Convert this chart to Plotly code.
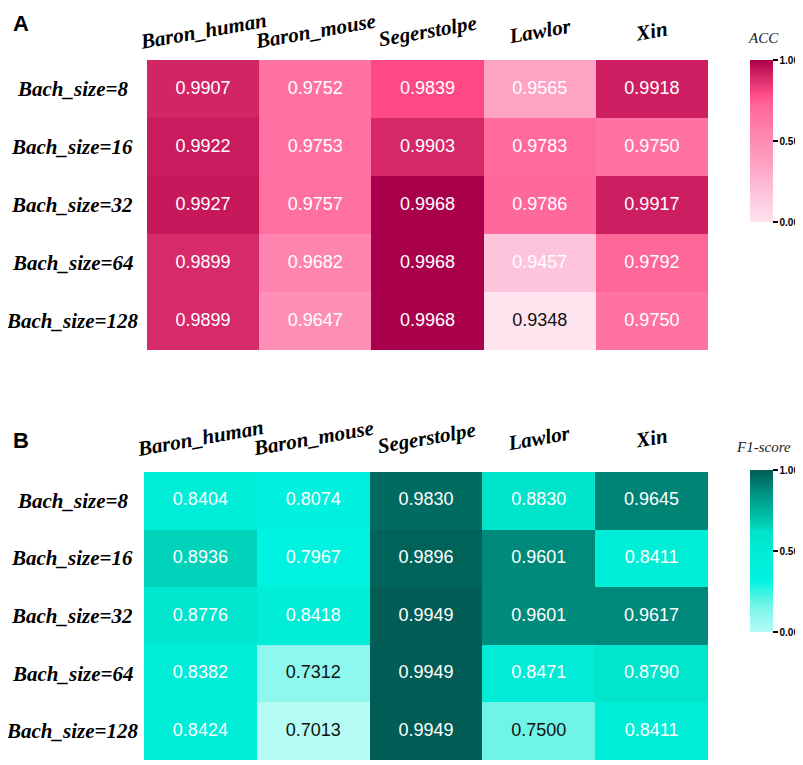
import plotly.graph_objects as go

datasets = ['Baron_human', 'Baron_mouse', 'Segerstolpe', 'Lawlor', 'Xin']
batch_sizes = ['Bach_size=8', 'Bach_size=16', 'Bach_size=32', 'Bach_size=64', 'Bach_size=128']

# rows = batch size, columns = dataset
acc = [
    [0.9907, 0.9752, 0.9839, 0.9565, 0.9918],
    [0.9922, 0.9753, 0.9903, 0.9783, 0.9750],
    [0.9927, 0.9757, 0.9968, 0.9786, 0.9917],
    [0.9899, 0.9682, 0.9968, 0.9457, 0.9792],
    [0.9899, 0.9647, 0.9968, 0.9348, 0.9750],
]
f1 = [
    [0.8404, 0.8074, 0.9830, 0.8830, 0.9645],
    [0.8936, 0.7967, 0.9896, 0.9601, 0.8411],
    [0.8776, 0.8418, 0.9949, 0.9601, 0.9617],
    [0.8382, 0.7312, 0.9949, 0.8471, 0.8790],
    [0.8424, 0.7013, 0.9949, 0.7500, 0.8411],
]

pink_scale = [
    [0.0, '#ffe3ef'], [0.18, '#fec3dc'], [0.35, '#ffa3c4'], [0.5, '#ff8cb5'],
    [0.65, '#ff72a2'], [0.72, '#ff6699'], [0.79, '#ff4a85'], [0.89, '#d62a6a'],
    [0.93, '#c8195c'], [1.0, '#a8004a'],
]
teal_scale = [
    [0.0, '#b5fcf5'], [0.1, '#8ff7ee'], [0.17, '#6ff4e8'], [0.32, '#00f3e0'],
    [0.5, '#00ecd6'], [0.62, '#00e4cb'], [0.66, '#00d0b6'], [0.88, '#008b7c'],
    [0.96, '#006b60'], [1.0, '#005c54'],
]

# the page puts the plot 8px in from the top-left corner
W, H, OFF = 795, 757, 8


def px(x):
    return (x - OFF) / W


def py(y):
    return 1 - (y - OFF) / H


def normalise(table):
    flat = [v for row in table for v in row]
    lo, hi = min(flat), max(flat)
    return [[(v - lo) / (hi - lo) for v in row] for row in table]


fig = go.Figure()
notes = []

panels = [
    (acc, pink_scale, 'ACC', '', (60, 222), 0.9348, 31, 38),
    (f1, teal_scale, 'F1-score', '2', (470, 632), 0.7500, 438, 447),
]
for values, scale, title, ax, cb, dark_limit, label_y, title_y in panels:
    fig.add_trace(go.Heatmap(
        z=normalise(values), x=datasets, y=batch_sizes,
        colorscale=scale, zmin=0, zmax=1,
        xaxis='x' + ax, yaxis='y' + ax,
        hoverinfo='skip',
        colorbar=dict(
            x=px(750), xanchor='left', y=py((cb[0] + cb[1]) / 2), yanchor='middle',
            xpad=0, ypad=0,
            len=cb[1] - cb[0], lenmode='pixels', thickness=23, outlinewidth=0,
            tickvals=[0, 0.5, 1], ticktext=['0.00', '0.50', '1.00'],
            ticks='outside', ticklen=5, tickwidth=2, tickcolor='black',
            tickfont=dict(family='Liberation Sans', size=10, weight='bold', color='black'),
        ),
    ))
    xs, ys, labels, colours = [], [], [], []
    for i, row in enumerate(values):
        for j, v in enumerate(row):
            xs.append(datasets[j])
            ys.append(batch_sizes[i])
            labels.append(f'{v:.4f}')
            colours.append('#111111' if v <= dark_limit else 'white')
    fig.add_trace(go.Scatter(
        x=xs, y=ys, mode='text', text=labels,
        textfont=dict(family='Liberation Sans', size=18, color=colours),
        xaxis='x' + ax, yaxis='y' + ax, hoverinfo='skip', showlegend=False,
    ))
    # column names, slightly tilted, above each column
    for name in datasets:
        notes.append(dict(
            text=name, x=name, xref='x' + ax, y=py(label_y), yref='paper',
            showarrow=False, textangle=-10, xanchor='center', yanchor='middle',
            font=dict(family='Liberation Serif', size=21, style='italic',
                      weight='bold', color='black'),
        ))
    # row names, centred in the left margin
    for name in batch_sizes:
        notes.append(dict(
            text=name, x=px(72), xref='paper', y=name, yref='y' + ax,
            showarrow=False, xanchor='center', yanchor='middle',
            font=dict(family='Liberation Serif', size=21, style='italic',
                      weight='bold', color='black'),
        ))
    # colourbar title
    notes.append(dict(
        text=title, x=px(763), y=py(title_y), xref='paper', yref='paper', showarrow=False,
        xanchor='center', yanchor='middle',
        font=dict(family='Liberation Serif', size=15, style='italic', color='#222222'),
    ))

for letter, ly in [('A', 24), ('B', 440)]:
    notes.append(dict(
        text=letter, x=px(11), y=py(ly), xref='paper', yref='paper', showarrow=False,
        xanchor='left', yanchor='middle',
        font=dict(family='Liberation Sans', size=22, weight='bold', color='black'),
    ))

common_x = dict(range=[-0.5, 4.5], autorange=False, showticklabels=False,
                showgrid=False, zeroline=False, ticks='')
common_y = dict(range=[4.5, -0.5], autorange=False, showticklabels=False,
                showgrid=False, zeroline=False, ticks='')

fig.update_layout(
    width=W, height=H,
    margin=dict(l=0, r=0, t=0, b=0, autoexpand=False),
    paper_bgcolor='white', plot_bgcolor='white',
    showlegend=False,
    xaxis=dict(domain=[px(147), px(708)], anchor='y', **common_x),
    yaxis=dict(domain=[py(350), py(60)], anchor='x', **common_y),
    xaxis2=dict(domain=[px(144), px(708)], anchor='y2', **common_x),
    yaxis2=dict(domain=[py(760), py(472)], anchor='x2', **common_y),
    annotations=notes,
)

fig.write_html('out.html')
